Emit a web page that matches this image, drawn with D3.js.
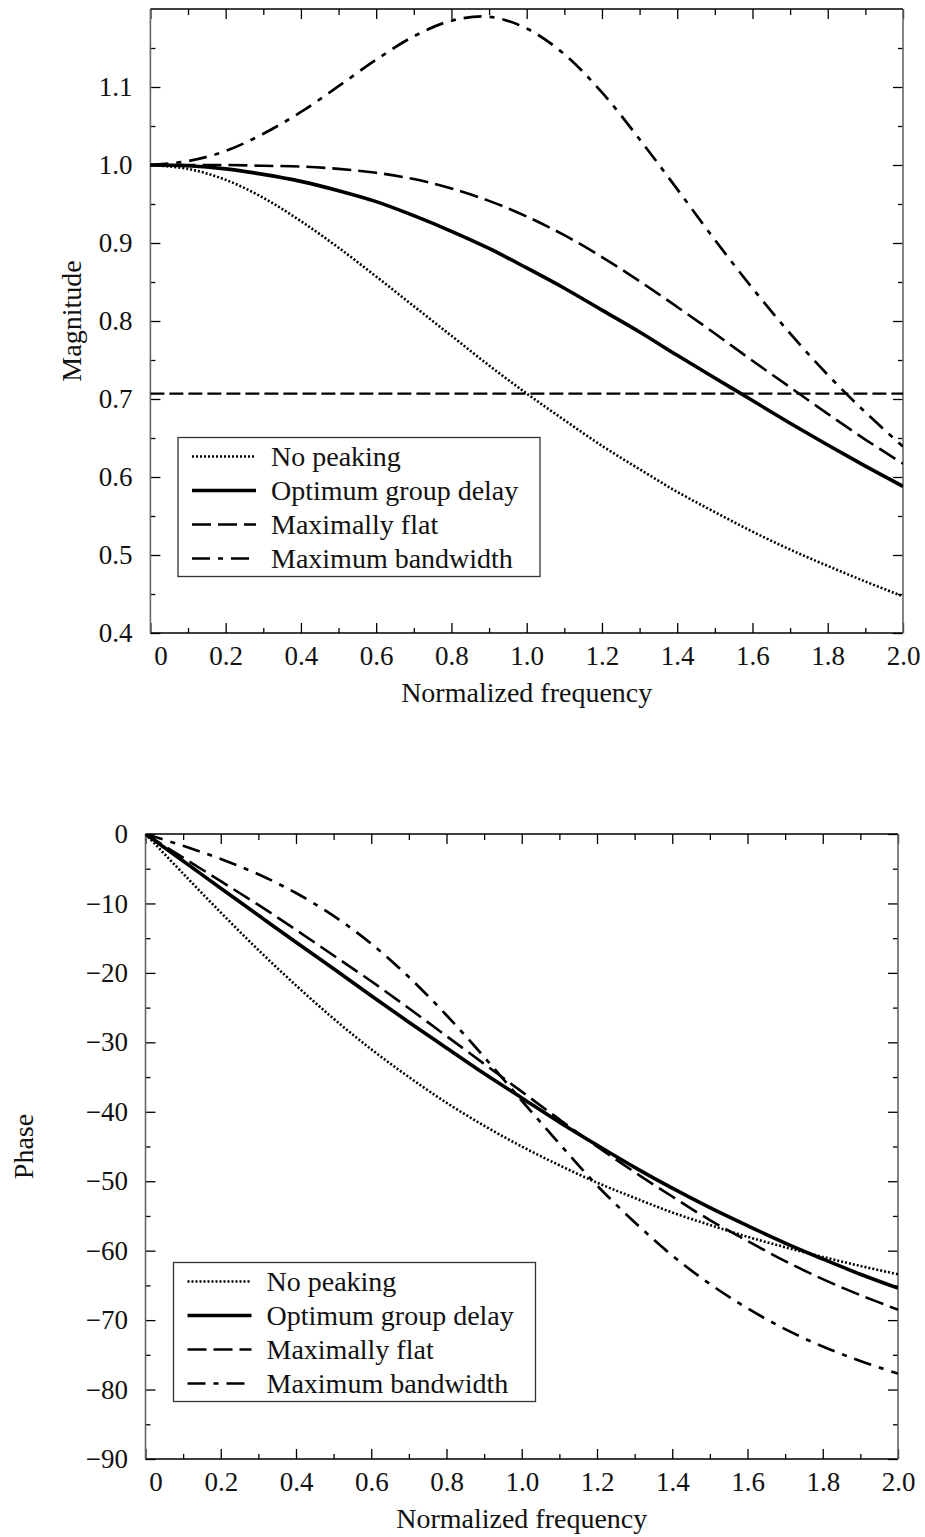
<!DOCTYPE html>
<html>
<head>
<meta charset="utf-8">
<script src="https://cdn.jsdelivr.net/npm/d3@7"></script>
<style>
  html, body { margin: 0; padding: 0; background: #fff; }
  svg { display: block; }
  text { font-family: "Liberation Serif", "Times New Roman", serif; fill: #111; }
</style>
</head>
<body>
<div id="chart"></div>
<script>
// frequency points (normalized)
const freq = [0, 0.1, 0.2, 0.3, 0.4, 0.5, 0.6, 0.7, 0.8, 0.9, 1.0,
              1.1, 1.2, 1.3, 1.4, 1.5, 1.6, 1.7, 1.8, 1.9, 2.0];

const seriesNames = ["No peaking", "Optimum group delay", "Maximally flat", "Maximum bandwidth"];

// magnitude
const magNoPeaking = [1.000, 0.995, 0.981, 0.958, 0.928, 0.894, 0.857, 0.819, 0.781, 0.743, 0.707,
                      0.673, 0.640, 0.610, 0.581, 0.555, 0.530, 0.507, 0.486, 0.466, 0.447];
const magOptimum   = [1.000, 0.999, 0.995, 0.988, 0.979, 0.967, 0.953, 0.935, 0.915, 0.893, 0.868,
                      0.842, 0.814, 0.786, 0.756, 0.727, 0.698, 0.669, 0.641, 0.614, 0.588];
const magMaxFlat   = [1.000, 1.000, 1.000, 0.999, 0.998, 0.995, 0.990, 0.982, 0.970, 0.954, 0.934,
                      0.910, 0.882, 0.851, 0.818, 0.784, 0.749, 0.715, 0.681, 0.648, 0.617];
const magMaxBW     = [1.000, 1.005, 1.018, 1.040, 1.068, 1.101, 1.135, 1.165, 1.185, 1.190, 1.175,
                      1.142, 1.093, 1.033, 0.969, 0.904, 0.842, 0.784, 0.731, 0.683, 0.639];

// phase (degrees)
const phNoPeaking = [0, -5.7, -11.3, -16.7, -21.8, -26.6, -31.0, -35.0, -38.7, -42.0, -45.0,
                     -47.7, -50.2, -52.4, -54.5, -56.3, -58.0, -59.5, -60.9, -62.2, -63.4];
const phOptimum   = [0, -3.9, -7.8, -11.7, -15.6, -19.4, -23.3, -27.1, -30.8, -34.5, -38.0,
                     -41.5, -44.8, -48.0, -51.0, -53.8, -56.4, -58.9, -61.2, -63.4, -65.4];
const phMaxFlat   = [0, -3.4, -6.8, -10.2, -13.8, -17.5, -21.2, -25.1, -29.1, -33.1, -37.1,
                     -41.1, -45.0, -48.7, -52.2, -55.6, -58.6, -61.5, -64.1, -66.4, -68.5];
const phMaxBW     = [0, -1.7, -3.6, -5.8, -8.5, -11.8, -15.8, -20.6, -26.1, -32.1, -38.4,
                     -44.6, -50.6, -55.9, -60.7, -64.8, -68.3, -71.3, -73.8, -75.9, -77.7];

const magTicks = [0.4, 0.5, 0.6, 0.7, 0.8, 0.9, 1.0, 1.1];
const magMinor = [0.45, 0.55, 0.65, 0.75, 0.85, 0.95, 1.05, 1.15];
const phTicks = [0, -10, -20, -30, -40, -50, -60, -70, -80, -90];
const phMinor = [-5, -15, -25, -35, -45, -55, -65, -75, -85];
const xTicks = [0, 0.2, 0.4, 0.6, 0.8, 1.0, 1.2, 1.4, 1.6, 1.8, 2.0];
const xMinor = [0.1, 0.3, 0.5, 0.7, 0.9, 1.1, 1.3, 1.5, 1.7, 1.9];
const cutoff = 0.707;

const styles = [
  { width: 2.6, dash: "2,2" },
  { width: 3.6, dash: null },
  { width: 2.6, dash: "19,7" },
  { width: 2.7, dash: "18,8,5,8" }
];

const svg = d3.select("#chart").append("svg").attr("width", 925).attr("height", 1537);

function drawPanel(cfg) {
  const x = d3.scaleLinear().domain([0, 2]).range([cfg.left, cfg.right]);
  const y = d3.scaleLinear().domain(cfg.yDomain).range([cfg.bottom, cfg.top]);
  const g = svg.append("g");

  const clipId = "clip" + cfg.id;
  g.append("clipPath").attr("id", clipId).append("rect")
    .attr("x", cfg.left).attr("y", cfg.top)
    .attr("width", cfg.right - cfg.left).attr("height", cfg.bottom - cfg.top);

  // axes, ticks pointing inwards
  const xb = g.append("g").attr("transform", `translate(0,${cfg.bottom})`)
    .call(d3.axisBottom(x).tickValues(xTicks).tickSize(-10).tickPadding(13)
      .tickFormat(d => d === 0 ? "0" : d.toFixed(1)));
  xb.selectAll("text").filter(d => d === 0).attr("x", 10);
  g.append("g").attr("transform", `translate(0,${cfg.bottom})`)
    .call(d3.axisBottom(x).tickValues(xMinor).tickSize(-5).tickFormat(""));
  g.append("g").attr("transform", `translate(0,${cfg.top})`)
    .call(d3.axisTop(x).tickValues(xTicks).tickSize(-10).tickFormat(""));
  g.append("g").attr("transform", `translate(0,${cfg.top})`)
    .call(d3.axisTop(x).tickValues(xMinor).tickSize(-6).tickFormat(""));

  g.append("g").attr("transform", `translate(${cfg.left},0)`)
    .call(d3.axisLeft(y).tickValues(cfg.yTicks).tickSize(-10).tickPadding(cfg.yPad)
      .tickFormat(cfg.yFmt));
  g.append("g").attr("transform", `translate(${cfg.left},0)`)
    .call(d3.axisLeft(y).tickValues(cfg.yMinor).tickSize(-5).tickFormat(""));
  g.append("g").attr("transform", `translate(${cfg.right},0)`)
    .call(d3.axisRight(y).tickValues(cfg.yTicks).tickSize(-10).tickFormat(""));
  g.append("g").attr("transform", `translate(${cfg.right},0)`)
    .call(d3.axisRight(y).tickValues(cfg.yMinor).tickSize(-5).tickFormat(""));

  g.selectAll(".domain").remove();
  g.selectAll(".tick line").attr("stroke", "#000").attr("stroke-width", 1.3);
  g.selectAll(".tick text").attr("font-size", 27).attr("fill", "#111")
    .attr("font-family", '"Liberation Serif", "Times New Roman", serif');

  // frame
  g.append("line").attr("x1", cfg.left).attr("x2", cfg.right).attr("y1", cfg.top).attr("y2", cfg.top)
    .attr("stroke", "#000").attr("stroke-width", 1.5);
  g.append("line").attr("x1", cfg.left).attr("x2", cfg.right).attr("y1", cfg.bottom).attr("y2", cfg.bottom)
    .attr("stroke", "#000").attr("stroke-width", 1.5);
  g.append("line").attr("x1", cfg.left).attr("x2", cfg.left).attr("y1", cfg.top).attr("y2", cfg.bottom)
    .attr("stroke", "#666").attr("stroke-width", 1.6);
  g.append("line").attr("x1", cfg.right).attr("x2", cfg.right).attr("y1", cfg.top).attr("y2", cfg.bottom)
    .attr("stroke", "#666").attr("stroke-width", 1.6);

  const plot = g.append("g").attr("clip-path", `url(#${clipId})`);

  if (cfg.refLine != null) {
    plot.append("line")
      .attr("x1", x(0)).attr("x2", x(2))
      .attr("y1", y(cfg.refLine)).attr("y2", y(cfg.refLine))
      .attr("stroke", "#000").attr("stroke-width", 2.2).attr("stroke-dasharray", "14,5");
  }

  const line = d3.line()
    .x((d, i) => x(freq[i]))
    .y(d => y(d))
    .curve(d3.curveCatmullRom.alpha(0.5));

  cfg.series.forEach((vals, k) => {
    plot.append("path")
      .attr("d", line(vals))
      .attr("fill", "none")
      .attr("stroke", "#000")
      .attr("stroke-width", styles[k].width)
      .attr("stroke-dasharray", styles[k].dash);
  });

  // axis titles
  g.append("text")
    .attr("x", (cfg.left + cfg.right) / 2).attr("y", cfg.bottom + 69)
    .attr("text-anchor", "middle").attr("font-size", 28)
    .text("Normalized frequency");
  g.append("text")
    .attr("transform", `translate(${cfg.yTitleX},${(cfg.top + cfg.bottom) / 2}) rotate(-90)`)
    .attr("text-anchor", "middle").attr("font-size", 28)
    .text(cfg.yTitle);

  // legend
  const lg = g.append("g").attr("transform", `translate(${cfg.legX},${cfg.legY})`);
  lg.append("rect").attr("width", 362).attr("height", 139)
    .attr("fill", "#fff").attr("stroke", "#333").attr("stroke-width", 1.3);
  seriesNames.forEach((name, k) => {
    const ly = 19 + k * 34;
    lg.append("line").attr("x1", 14).attr("x2", 78).attr("y1", ly).attr("y2", ly)
      .attr("stroke", "#000").attr("stroke-width", styles[k].width)
      .attr("stroke-dasharray", styles[k].dash);
    lg.append("text").attr("x", 93).attr("y", ly + 9).attr("font-size", 28).text(name);
  });
}

drawPanel({
  id: "mag", left: 150.4, right: 903, top: 9, bottom: 633,
  yDomain: [0.4, 1.2], yTicks: magTicks, yMinor: magMinor, yPad: 18,
  yFmt: d => d.toFixed(1), yTitle: "Magnitude", yTitleX: 81,
  series: [magNoPeaking, magOptimum, magMaxFlat, magMaxBW],
  refLine: cutoff, legX: 178, legY: 437.5
});

drawPanel({
  id: "ph", left: 145.5, right: 898, top: 834, bottom: 1459,
  yDomain: [-90, 0], yTicks: phTicks, yMinor: phMinor, yPad: 17.5,
  yFmt: d => d === 0 ? "0" : "\u2212" + Math.abs(d), yTitle: "Phase", yTitleX: 33,
  series: [phNoPeaking, phOptimum, phMaxFlat, phMaxBW],
  refLine: null, legX: 173.5, legY: 1262.5
});
</script>
</body>
</html>
